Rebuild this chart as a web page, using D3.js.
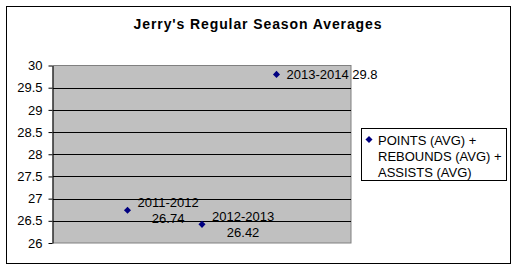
<!DOCTYPE html>
<html>
<head>
<meta charset="utf-8">
<script src="https://cdn.jsdelivr.net/npm/d3@7"></script>
<style>
  body { margin: 0; background: #fff; }
  svg { display: block; font-family: "Liberation Sans", Arial, sans-serif; }
</style>
</head>
<body>
<script>
const seasons = ["2011-2012", "2012-2013", "2013-2014"];
const values = [26.74, 26.42, 29.8];
const labelWrap = [true, true, false];
const yTicks = [26, 26.5, 27, 27.5, 28, 28.5, 29, 29.5, 30];
const legendLines = ["POINTS (AVG) +", "REBOUNDS (AVG) +", "ASSISTS (AVG)"];
const title = "Jerry's Regular Season Averages";

const w = 517;
const h = 270;
const plot = { left: 53, top: 65.5, right: 351, bottom: 243 };
const navy = "#000080";

const svg = d3.select("body").append("svg").attr("width", w).attr("height", h);

// chart border
svg.append("rect")
  .attr("x", 6.5).attr("y", 6.5)
  .attr("width", 504).attr("height", 257)
  .attr("fill", "#fff").attr("stroke", "#000");

svg.append("text")
  .attr("x", 258).attr("y", 29)
  .attr("text-anchor", "middle")
  .attr("font-size", 14).attr("font-weight", "bold")
  .attr("letter-spacing", 0.9)
  .text(title);

const xScale = d3.scaleLinear().domain([0, seasons.length + 1]).range([plot.left, plot.right]);
const yScale = d3.scaleLinear().domain([26, 30]).range([plot.bottom, plot.top]);

// plot area
svg.append("rect")
  .attr("x", plot.left).attr("y", plot.top)
  .attr("width", plot.right - plot.left).attr("height", plot.bottom - plot.top)
  .attr("fill", "#c0c0c0").attr("stroke", "#808080");

svg.append("g")
  .selectAll("line")
  .data(yTicks.filter((d) => d > 26 && d < 30))
  .enter()
  .append("line")
  .attr("x1", plot.left).attr("x2", plot.right)
  .attr("y1", (d) => Math.round(yScale(d)) + 0.5)
  .attr("y2", (d) => Math.round(yScale(d)) + 0.5)
  .attr("stroke", "#000");

const yAxis = d3.axisLeft(yScale).tickValues(yTicks).tickSize(4).tickSizeOuter(0).tickPadding(6).tickFormat(String);
const yAxisG = svg.append("g")
  .attr("transform", `translate(${plot.left - 0.5}, 0)`)
  .call(yAxis);
yAxisG.selectAll("text").attr("font-size", 13).attr("font-family", "Liberation Sans, Arial, sans-serif").attr("fill", "#000");
yAxisG.selectAll("line, path").attr("stroke", "#000");

// points
const points = seasons.map((s, i) => ({ season: s, value: values[i], i: i }));
svg.append("g")
  .selectAll("path")
  .data(points)
  .enter()
  .append("path")
  .attr("d", d3.symbol().type(d3.symbolSquare).size(25))
  .attr("transform", (d) => `translate(${xScale(d.i + 1)}, ${yScale(d.value)}) rotate(45)`)
  .attr("fill", navy);

// data labels
points.forEach((d) => {
  const px = xScale(d.i + 1);
  const py = yScale(d.value);
  const lines = labelWrap[d.i] ? [d.season, String(d.value)] : [d.season + " " + d.value];
  const g = svg.append("g").attr("font-size", 13);
  const texts = lines.map((t, k) =>
    g.append("text")
      .attr("y", py + 4.5 + (k - (lines.length - 1) / 2) * 16)
      .attr("text-anchor", "middle")
      .text(t)
  );
  const maxW = d3.max(texts, (t) => t.node().getComputedTextLength());
  texts.forEach((t) => t.attr("x", px + 10 + maxW / 2));
});

// legend
const legend = svg.append("g");
legend.append("rect")
  .attr("x", 361.5).attr("y", 128.5)
  .attr("width", 145).attr("height", 52)
  .attr("fill", "#fff").attr("stroke", "#000");
legend.append("path")
  .attr("d", d3.symbol().type(d3.symbolSquare).size(25))
  .attr("transform", "translate(369, 139.5) rotate(45)")
  .attr("fill", navy);
legend.selectAll("text")
  .data(legendLines)
  .enter()
  .append("text")
  .attr("x", 378)
  .attr("y", (d, i) => 144.5 + i * 16.3)
  .attr("font-size", 13)
  .text((d) => d);
</script>
</body>
</html>
